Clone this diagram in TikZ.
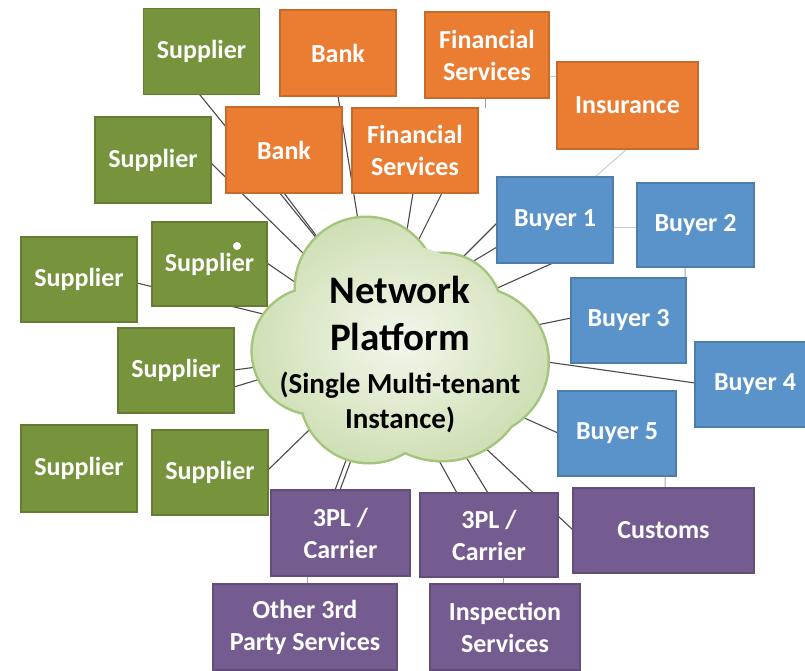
\documentclass[tikz,border=0pt]{standalone}
\usepackage{fontspec}
\setmainfont{Carlito}
\usetikzlibrary{backgrounds}

\definecolor{supgreen}{HTML}{77933C}
\definecolor{bankorange}{HTML}{EB7D33}
\definecolor{buyblue}{HTML}{5A93CA}
\definecolor{logpurple}{HTML}{755C90}
\definecolor{cloudfill}{HTML}{D0E0B6}
\definecolor{cloudedge}{HTML}{A5C47C}
\definecolor{linkgray}{HTML}{4A4A4A}

\newcommand\lblfont{\fontsize{26bp}{32bp}\selectfont\bfseries}
% outer puffs of the platform cloud
\newcommand\cloudpuffs{
  (366,288) circle[radius=70]
  (442,313) circle[radius=59]
  (474,362) circle[radius=73.5]
  (442,374) circle[radius=86]
  (369,394) circle[radius=68]
  (315.5,351) circle[radius=62.6]}

\begin{document}
\begin{tikzpicture}[x=1bp,y=-1bp,
  box/.style={rectangle, draw=#1!85!black, fill=#1, line width=1.2bp,
    text=white, font=\lblfont, align=center, inner sep=0pt,
    minimum width=116bp, minimum height=86bp},
  link/.style={draw=linkgray, line width=1.1bp, shorten >=-30bp, shorten <=-3bp},
  tie/.style={draw=gray!70, line width=1bp},
  faint/.style={draw=gray!40, line width=1bp}]

\useasboundingbox (0,0) rectangle (805,671);
\clip (0,0) rectangle (805,671);

% central platform cloud: outline first, then the shaded body over its inner half
\draw[cloudedge, line width=5bp] \cloudpuffs;
\shade[inner color=white!75!cloudfill, outer color=cloudfill]
  \cloudpuffs (400,345) circle[radius=100];
\coordinate (net) at (400,340);
\node[font=\fontsize{39bp}{47bp}\selectfont\bfseries, align=center] (nettitle)
      at (400,313) {Network\\Platform};
\node[font=\fontsize{29bp}{35bp}\selectfont\bfseries, align=center] (netsub)
      at (400,402) {(Single Multi-tenant\\Instance)};

% suppliers
\node[box=supgreen] (sup1) at (201.5,51.5) {Supplier};
\node[box=supgreen] (sup2) at (153,160) {Supplier};
\node[box=supgreen, minimum width=115bp, minimum height=84bp] (sup3) at (209.5,264) {Supplier};
\node[box=supgreen, minimum height=85bp] (sup4) at (79,279.5) {Supplier};
\node[box=supgreen, minimum height=85bp] (sup5) at (176,370.5) {Supplier};
\node[box=supgreen, minimum height=87bp] (sup6) at (79,468.5) {Supplier};
\node[box=supgreen, minimum height=85bp] (sup7) at (210,472.5) {Supplier};

% finance
\node[box=bankorange] (bank1) at (338,53) {Bank};
\node[box=bankorange] (bank2) at (284,150) {Bank};
\node[box=bankorange, minimum width=124bp] (fin1) at (487,55) {Financial\\Services};
\node[box=bankorange, minimum width=126bp, minimum height=85bp] (fin2) at (415,150.5) {Financial\\Services};
\node[box=bankorange, minimum width=141bp, minimum height=87bp] (ins) at (627.5,105.5) {Insurance};

% buyers
\node[box=buyblue] (buy1) at (555,220) {Buyer 1};
\node[box=buyblue, minimum width=117bp, minimum height=84bp] (buy2) at (695.5,225) {Buyer 2};
\node[box=buyblue, minimum width=115bp, minimum height=85bp] (buy3) at (628.5,320.5) {Buyer 3};
\node[box=buyblue, minimum width=120bp, minimum height=85bp] (buy4) at (755,384.5) {Buyer 4};
\node[box=buyblue, minimum width=118bp, minimum height=85bp] (buy5) at (617,433.5) {Buyer 5};

% logistics and services
\node[box=logpurple, minimum width=139bp] (tpl1) at (340.5,533) {3PL /\\Carrier};
\node[box=logpurple, minimum width=138bp, minimum height=84bp] (tpl2) at (489,535) {3PL /\\Carrier};
\node[box=logpurple, minimum width=181bp, minimum height=85bp] (cust) at (663.5,530.5) {Customs};
\node[box=logpurple, minimum width=184bp] (other) at (305,627) {Other 3rd\\Party Services};
\node[box=logpurple, minimum width=150bp] (insp) at (505,627) {Inspection\\Services};

\fill[white] ([shift={(27.5,-18)}]sup3.center) circle[radius=4];

\begin{pgfonlayer}{background}
  % spokes into the cloud
  \draw[link] ([shift={(-1.5,43.5)}]sup1.center) -- ([shift={(-82,-100)}]net);
  \draw[link] ([shift={(58,3)}]sup2.center) -- ([shift={(-93,-83)}]net);
  \draw[link] ([shift={(0,43)}]bank2.center) -- ([shift={(-79,-98)}]net);
  \draw[link] ([shift={(0,43)}]bank1.center) -- ([shift={(-42,-120)}]net);
  \draw[link] ([shift={(-2,42.5)}]fin2.center) -- ([shift={(7,-110)}]net);
  \draw[link] ([shift={(27,42.5)}]fin2.center) -- ([shift={(20,-103)}]net);
  \draw[link] ([shift={(-58,3)}]buy1.center) -- ([shift={(58,-78)}]net);
  \draw[link] ([shift={(-58,27)}]buy1.center) -- ([shift={(67,-75)}]net);
  \draw[link] ([shift={(-2,43)}]buy1.center) -- ([shift={(93,-50)}]net);
  \draw[link] ([shift={(-57.5,-2.5)}]buy3.center) -- ([shift={(137,-15)}]net);
  \draw[link] ([shift={(-60,-1.5)}]buy4.center) -- ([shift={(147,22)}]net);
  \draw[link] ([shift={(-59,-0.5)}]buy5.center) -- ([shift={(122,77)}]net);
  \draw[link] ([shift={(-32,-42)}]tpl2.center) -- ([shift={(37,117)}]net);
  \draw[link] ([shift={(-1,-42)}]tpl2.center) -- ([shift={(63,112)}]net);
  \draw[link] ([shift={(-90.5,-0.5)}]cust.center) -- ([shift={(80,103)}]net);
  \draw[link] ([shift={(-5.5,-43)}]tpl1.center) -- ([shift={(-55,123)}]net);
  \draw[link] ([shift={(-0.5,-43)}]tpl1.center) -- ([shift={(-50,123)}]net);
  \draw[link] ([shift={(58,-2.5)}]sup7.center) -- ([shift={(-93,92)}]net);
  \draw[link] ([shift={(58,-0.5)}]sup5.center) -- ([shift={(-143,27)}]net);
  \draw[link] ([shift={(58,16.5)}]sup5.center) -- ([shift={(-143,40)}]net);
  \draw[link] ([shift={(57.5,-1)}]sup3.center) -- ([shift={(-98,-53)}]net);
  \draw[link] ([shift={(58,3.5)}]sup4.center) -- ([shift={(-133,-25)}]net);

  % short ties between neighbouring boxes
  \draw[faint] ([shift={(58,7)}]buy1.center) -- ([shift={(-58.5,2)}]buy2.center);
  \draw[tie] ([shift={(-10.5,42)}]buy2.center) -- ([shift={(56.5,-42.5)}]buy3.center);
  \draw[faint] ([shift={(-0.5,43.5)}]ins.center) -- ([shift={(40,-43)}]buy1.center);
  \draw[tie] ([shift={(-2,43)}]fin1.center) -- ([shift={(70,-42.5)}]fin2.center);
  \draw[faint] ([shift={(62,22)}]fin1.center) -- ([shift={(-70.5,-28.5)}]ins.center);
  \draw[tie] ([shift={(-33.5,43)}]tpl1.center) -- ([shift={(2,-43)}]other.center);
  \draw[tie] ([shift={(14,42)}]tpl2.center) -- ([shift={(-2,-43)}]insp.center);
  \draw[tie] ([shift={(48,42.5)}]buy5.center) -- ([shift={(1.5,-42.5)}]cust.center);
\end{pgfonlayer}
\end{tikzpicture}
\end{document}
